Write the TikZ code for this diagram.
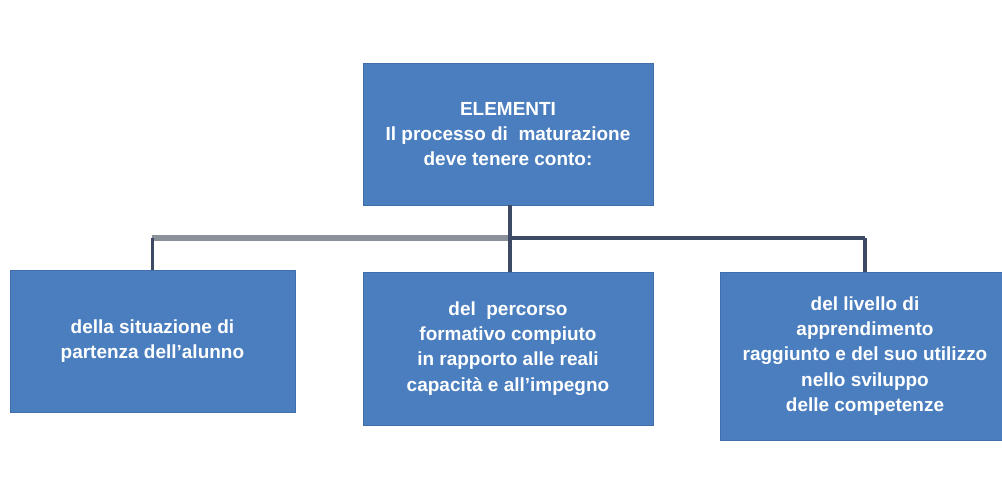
\documentclass[tikz,border=0pt]{standalone}
\usepackage{fontspec}
\setmainfont{Liberation Sans}
\usetikzlibrary{positioning}

\definecolor{boxblue}{HTML}{4A7EBF}
\definecolor{boxedge}{HTML}{3F6EAA}
\definecolor{barnavy}{HTML}{3C4A66}
\definecolor{bargrey}{HTML}{8A9199}

\begin{document}
\begin{tikzpicture}[
  box/.style={draw=boxedge, fill=boxblue, text=white, align=center,
    font=\bfseries\fontsize{13.5}{18}\selectfont, inner sep=0pt},
  stem/.style={draw=barnavy, line width=2.2pt},
  bar/.style={draw=barnavy, line width=3.4pt},
  greybar/.style={draw=bargrey, line width=4.2pt}
]

\useasboundingbox[fill=white] (0,0) rectangle (25.05,-12.55);

% Nodes
\node[box, minimum width=7.25cm, minimum height=3.55cm] (top) at (12.7,-3.35)
  {ELEMENTI\\Il processo di \ maturazione\\deve tenere conto:};
\node[box, minimum width=7.125cm, minimum height=3.55cm] (left) at (3.81,-8.525)
  {della situazione di\\partenza dell'alunno};
\node[box, minimum width=7.25cm, minimum height=3.825cm] (mid) at (12.7,-8.71)
  {del \ percorso\\formativo compiuto\\in rapporto alle reali\\capacità e all'impegno};
\node[box, minimum width=7.25cm, minimum height=4.2cm] (right) at (21.625,-8.9)
  {del livello di\\apprendimento\\raggiunto e del suo utilizzo\\nello sviluppo\\delle competenze};

% Branching bar
\coordinate (split) at (12.75,-5.95);
\coordinate (lcorner) at (left.north |- split);
\coordinate (rcorner) at (right.north |- split);

\draw[greybar] (lcorner) -- (split);
\draw[bar] (split) -- (rcorner);

% Connectors
\draw[stem] (top.south -| split) -- (mid.north -| split);
\draw[stem] (lcorner) -- (left.north);
\draw[stem] (rcorner) -- (right.north);

\end{tikzpicture}
\end{document}
